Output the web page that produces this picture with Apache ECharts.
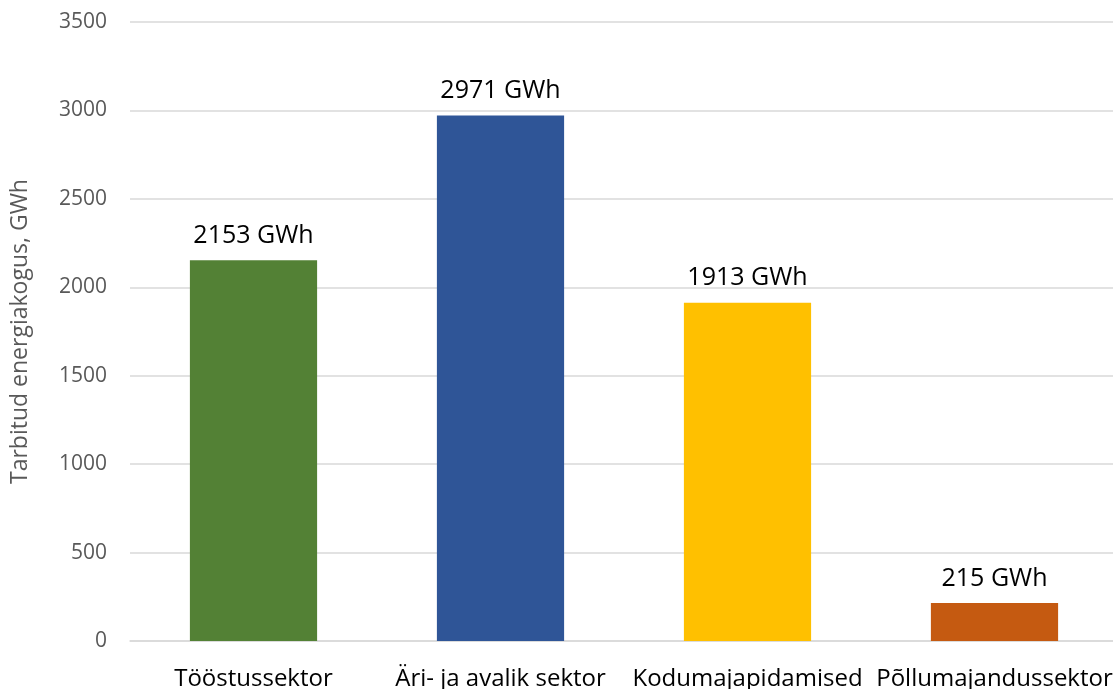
<!DOCTYPE html>
<html>
<head>
<meta charset="utf-8">
<script src="https://cdn.jsdelivr.net/npm/echarts@6/dist/echarts.min.js"></script>
<style>
  html, body { margin: 0; padding: 0; background: #fff; }
  #chart { width: 1113px; height: 689px; }
</style>
</head>
<body>
<div id="chart"></div>
<script>
// Final energy consumption by sector, GWh
const categories = ['Tööstussektor', 'Äri- ja avalik sektor', 'Kodumajapidamised', 'Põllumajandussektor'];
const values = [2153, 2971, 1913, 215];
const barColors = ['#538135', '#2F5597', '#FFC000', '#C55A11'];
const yTicks = { min: 0, max: 3500, interval: 500 };

const font = '"Open Sans", "Noto Sans", "Liberation Sans", sans-serif';

const chart = echarts.init(document.getElementById('chart'), null, { renderer: 'canvas' });
chart.setOption({
  animation: false,
  textStyle: { fontFamily: font },
  grid: {
    left: 130, right: -5, top: 22, bottom: 48,
    containLabel: false,
    outerBoundsMode: 'none'
  },
  xAxis: {
    type: 'category',
    data: categories,
    axisLine: { show: true, lineStyle: { color: '#D9D9D9', width: 1.5 } },
    axisTick: { show: false },
    axisLabel: { color: '#000', fontSize: 24, margin: 26, fontFamily: font, interval: 0 }
  },
  yAxis: {
    type: 'value',
    min: yTicks.min,
    max: yTicks.max,
    interval: yTicks.interval,
    name: 'Tarbitud energiakogus, GWh',
    nameLocation: 'middle',
    nameGap: 98,
    nameRotate: 90,
    nameTextStyle: { color: '#595959', fontSize: 23, fontFamily: font },
    axisLine: { show: false },
    axisTick: { show: false },
    axisLabel: {
      color: '#595959', fontSize: 21, margin: 23, fontFamily: font,
      formatter: v => String(v)
    },
    splitLine: { lineStyle: { color: '#D9D9D9', width: 1.5 } }
  },
  series: [{
    type: 'bar',
    data: values.map((v, i) => ({ value: v, itemStyle: { color: barColors[i] } })),
    barWidth: '51.5%',
    label: {
      show: true,
      position: 'top',
      distance: 12,
      color: '#000',
      fontSize: 25,
      fontFamily: font,
      formatter: p => p.value + ' GWh'
    }
  }]
});
</script>
</body>
</html>
